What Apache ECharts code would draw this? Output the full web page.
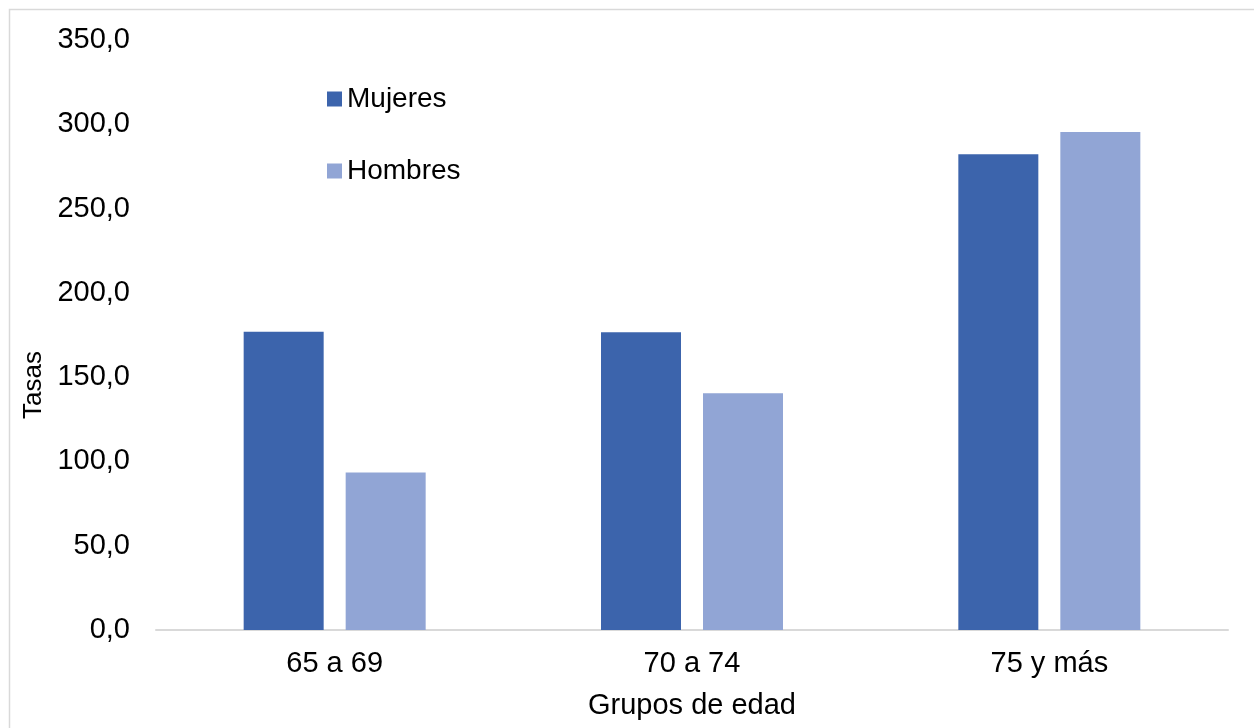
<!DOCTYPE html>
<html>
<head>
<meta charset="utf-8">
<script src="https://cdn.jsdelivr.net/npm/echarts@6/dist/echarts.min.js"></script>
<style>html,body{margin:0;padding:0;background:#fff}#c{width:1254px;height:728px}</style>
</head>
<body>
<div id="c"></div>
<script>
const categories = ['65 a 69', '70 a 74', '75 y más'];
const mujeres = [177.0, 176.6, 282.2];
const hombres = [93.4, 140.4, 295.4];
const yTicks = { min: 0, max: 350, interval: 50 };

const font = '"Liberation Sans", Arial, sans-serif';
const chart = echarts.init(document.getElementById('c'), null, { renderer: 'canvas' });
chart.setOption({
  animation: false,
  backgroundColor: '#ffffff',
  graphic: [{
    type: 'rect', silent: true, z: -1,
    shape: { x: 9.5, y: 9.5, width: 1300, height: 800 },
    style: { fill: 'none', stroke: '#D9D9D9', lineWidth: 1.5 }
  }],
  grid: { left: 156, right: 26, top: 40, bottom: 98, containLabel: false },
  legend: {
    orient: 'vertical', left: 322, top: 79, itemGap: 42,
    itemWidth: 15, itemHeight: 15, icon: 'rect',
    textStyle: { fontFamily: font, fontSize: 28, color: '#000', lineHeight: 30 },
    data: ['Mujeres', 'Hombres']
  },
  xAxis: {
    type: 'category', data: categories,
    name: 'Grupos de edad', nameLocation: 'middle', nameGap: 61,
    nameTextStyle: { fontFamily: font, fontSize: 29, color: '#000' },
    axisLine: { lineStyle: { color: '#D9D9D9', width: 2 } },
    axisTick: { show: false },
    axisLabel: { fontFamily: font, fontSize: 29, color: '#000', margin: 19 }
  },
  yAxis: {
    type: 'value', min: yTicks.min, max: yTicks.max, interval: yTicks.interval,
    name: 'Tasas', nameLocation: 'middle', nameGap: 108,
    nameTextStyle: { fontFamily: font, fontSize: 26, color: '#000', padding: [0, 100, 0, 0] },
    axisLine: { show: false }, axisTick: { show: false }, splitLine: { show: false },
    axisLabel: { fontFamily: font, fontSize: 29, color: '#000', margin: 26,
      formatter: v => v.toFixed(1).replace('.', ',') }
  },
  series: [
    { name: 'Mujeres', type: 'bar', data: mujeres, barWidth: 80, barGap: '27.5%',
      itemStyle: { color: '#3C64AC' } },
    { name: 'Hombres', type: 'bar', data: hombres, barWidth: 80, barGap: '27.5%',
      itemStyle: { color: '#91A5D5' } }
  ]
});
</script>
</body>
</html>
